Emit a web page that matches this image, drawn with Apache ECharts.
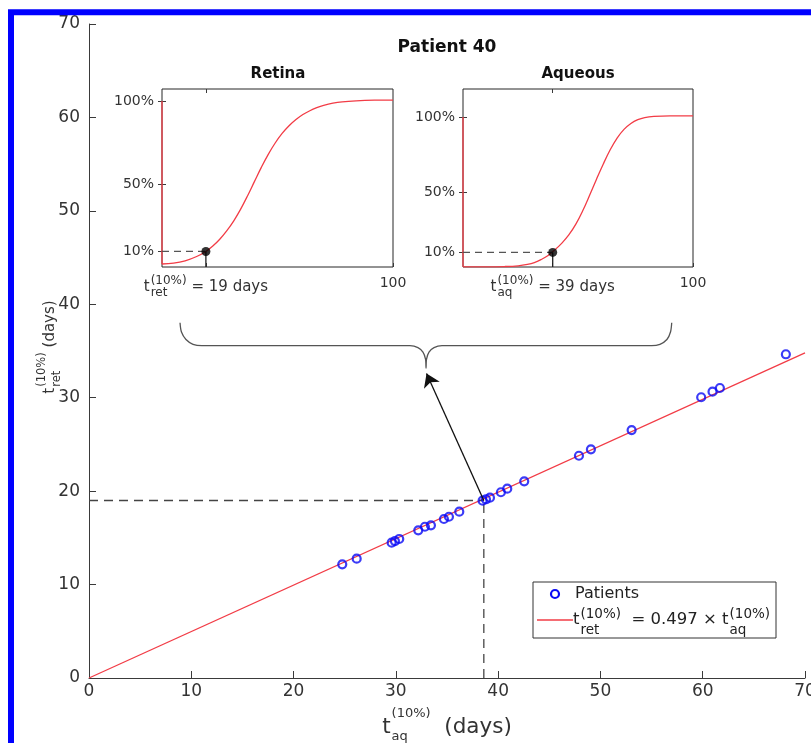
<!DOCTYPE html>
<html><head><meta charset="utf-8">
<script src="https://cdn.jsdelivr.net/npm/echarts@6/dist/echarts.min.js"></script>
<style>html,body{margin:0;padding:0;background:#fff;} #c{width:811px;height:743px;}</style>
</head><body><div id="c"></div>
<script>
const FONT = 'DejaVu Sans';
const AXIS_COLOR = '#3a3a3a';
const TEXT_COLOR = '#333333';

// ---- Main panel data: t_aq^(10%) (x) vs t_ret^(10%) (y), days ----
const patientsAq  = [24.76,26.17,29.59,29.91,30.33,32.19,32.84,33.43,34.70,35.19,36.20,38.48,38.81,39.20,40.27,40.89,42.55,47.90,49.07,53.05,59.85,60.96,61.68,68.13];
const patientsRet = [12.17,12.77,14.48,14.66,14.88,15.81,16.19,16.34,17.02,17.26,17.80,18.98,19.13,19.30,19.88,20.26,21.05,23.79,24.48,26.54,30.05,30.65,31.04,34.65];
const fitLine = [[0, 0], [70, 34.79]];
const patient40 = [38.6, 19];
const arrowTip = [33.0, 32.6];
const mainTicks = [0, 10, 20, 30, 40, 50, 60, 70];
// curly brace annotation (main data coordinates)
const brace = [[8.90,38.03],[9.04,37.03],[9.48,36.23],[10.17,35.72],[11.02,35.57],[31.38,35.57],[32.16,35.37],[32.65,34.89],[32.90,34.14],[32.95,33.15],[33.00,34.14],[33.24,34.89],[33.73,35.37],[34.51,35.57],[55.01,35.57],[55.82,35.72],[56.50,36.23],[56.85,37.03],[56.97,38.03]];

// ---- Inset curves (x: days 0-100, y: % of max) ----
const retinaCurve = [[0,2.5],[5,3.0],[10,4.4],[15,7.0],[19,10],[22,13.2],[25,17.3],[28,22.3],[31,28.2],[34,35.2],[37,43.2],[40,51.8],[43,60.3],[46,68.1],[49,74.9],[52,80.6],[55,85.2],[58,88.9],[61,91.9],[64,94.2],[67,96.0],[70,97.4],[74,98.7],[78,99.5],[84,100.1],[92,100.5],[100,100.6]];
const retinaJump = [[0,100],[0,2.5]];
const retinaT10 = 19;
const aqueousCurve = [[0,0.4],[10,0.4],[18,0.6],[24,1.1],[28,2.0],[31,3.2],[34,5.3],[37,8.0],[40,11.8],[43,16.2],[46,21.6],[49,28.6],[52,37.5],[55,47.8],[58,58.5],[61,68.8],[64,78.2],[67,86.0],[70,91.8],[73,95.7],[76,98.2],[79,99.6],[83,100.4],[90,100.8],[100,100.8]];
const aqueousJump = [[0,100],[0,0.4]];
const aqueousT10 = 39;
const insetYTicks = [10, 50, 100];
const retinaYRange = [0.7, 107.2];
const aqueousYRange = [0.3, 118.6];

const chart = echarts.init(document.getElementById('c'), null, {renderer: 'canvas'});

function insetXAxis(grid, pos, tick, showLabel) {
  return {
    type: 'value', gridIndex: grid, position: pos, min: 0, max: 100,
    axisLine: {show: false},
    splitLine: {show: false},
    axisTick: {show: true, inside: true, length: 4, customValues: pos === 'bottom' ? [tick, 100] : [tick], lineStyle: {color: AXIS_COLOR}},
    axisLabel: {show: showLabel, customValues: [100], formatter: v => (v === 100 ? '100' : ''), fontFamily: FONT, fontSize: 14, color: TEXT_COLOR, margin: 9}
  };
}
function insetYAxis(grid, pos, range, showLabel) {
  return {
    type: 'value', gridIndex: grid, position: pos, min: range[0], max: range[1],
    axisLine: {show: false},
    splitLine: {show: false},
    axisTick: {show: true, inside: true, length: 4, customValues: insetYTicks, lineStyle: {color: AXIS_COLOR}},
    axisLabel: {show: showLabel, customValues: insetYTicks, formatter: v => Math.round(v) + '%', fontFamily: FONT, fontSize: 14, color: TEXT_COLOR, margin: 8}
  };
}

const insetGrid = {show: true, backgroundColor: '#ffffff', borderColor: '#262626', borderWidth: 1, outerBoundsMode: 'none', containLabel: false};
const redLine = {color: '#f23c46', width: 1.3};

const option = {
  animation: false,
  backgroundColor: '#ffffff',
  title: [
    {text: 'Patient 40', left: 447, top: 39, textAlign: 'center', padding: 0, textStyle: {fontFamily: FONT, fontSize: 17, fontWeight: 'bold', color: '#111', lineHeight: 17}},
    {text: 'Retina', left: 278, top: 67, textAlign: 'center', padding: 0, textStyle: {fontFamily: FONT, fontSize: 15, fontWeight: 'bold', color: '#111', lineHeight: 15}},
    {text: 'Aqueous', left: 578, top: 67, textAlign: 'center', padding: 0, textStyle: {fontFamily: FONT, fontSize: 15, fontWeight: 'bold', color: '#111', lineHeight: 15}}
  ],
  grid: [
    {left: 89, top: 24, width: 716, height: 654, containLabel: false, outerBoundsMode: 'none'},
    Object.assign({left: 162, top: 89, width: 231, height: 178}, insetGrid),
    Object.assign({left: 463, top: 89, width: 230, height: 178}, insetGrid)
  ],
  xAxis: [
    {type: 'value', gridIndex: 0, min: mainTicks[0], max: mainTicks[mainTicks.length - 1], interval: 10,
     axisLine: {show: true, lineStyle: {color: AXIS_COLOR, width: 1}},
     axisTick: {show: true, inside: true, length: 7, lineStyle: {color: AXIS_COLOR}},
     axisLabel: {fontFamily: FONT, fontSize: 17, color: TEXT_COLOR, margin: 5},
     splitLine: {show: false}},
    insetXAxis(1, 'bottom', retinaT10, true),
    insetXAxis(1, 'top', retinaT10, false),
    insetXAxis(2, 'bottom', aqueousT10, true),
    insetXAxis(2, 'top', aqueousT10, false)
  ],
  yAxis: [
    {type: 'value', gridIndex: 0, min: mainTicks[0], max: mainTicks[mainTicks.length - 1], interval: 10,
     axisLine: {show: true, lineStyle: {color: AXIS_COLOR, width: 1}},
     axisTick: {show: true, inside: true, length: 7, lineStyle: {color: AXIS_COLOR}},
     axisLabel: {fontFamily: FONT, fontSize: 17, color: TEXT_COLOR, margin: 9},
     splitLine: {show: false}},
    insetYAxis(1, 'left', retinaYRange, true),
    insetYAxis(1, 'right', retinaYRange, false),
    insetYAxis(2, 'left', aqueousYRange, true),
    insetYAxis(2, 'right', aqueousYRange, false)
  ],
  series: [
    {name: 'fit', type: 'line', xAxisIndex: 0, yAxisIndex: 0, data: fitLine, symbol: 'none', lineStyle: {color: '#f23c46', width: 1.3}, z: 2},
    {name: 'Patients', type: 'scatter', xAxisIndex: 0, yAxisIndex: 0,
     data: patientsAq.map((v, i) => [v, patientsRet[i]]),
     symbol: 'circle', symbolSize: 8,
     itemStyle: {color: 'rgba(0,0,0,0)', borderColor: '#0a0af5', borderWidth: 2.2}, z: 3},
    {type: 'line', xAxisIndex: 0, yAxisIndex: 0, data: [[0, patient40[1]], patient40], symbol: 'none',
     lineStyle: {color: '#444', width: 1.3, type: [9, 6]}, z: 2},
    {type: 'line', xAxisIndex: 0, yAxisIndex: 0, data: [[patient40[0], 0], patient40], symbol: 'none',
     lineStyle: {color: '#444', width: 1.3, type: [9, 6]}, z: 2},
    {type: 'line', xAxisIndex: 0, yAxisIndex: 0, data: brace, symbol: 'none', smooth: 0.3,
     lineStyle: {color: '#555', width: 1.3}, z: 2},
    {type: 'line', xAxisIndex: 0, yAxisIndex: 0, data: [], symbol: 'none',
     markLine: {silent: true, symbol: ['none', 'arrow'], symbolSize: 13, label: {show: false},
       lineStyle: {color: '#111', width: 1.3, type: 'solid'},
       data: [[{coord: patient40}, {coord: arrowTip}]]}, z: 4},
    // Retina inset
    {type: 'line', xAxisIndex: 1, yAxisIndex: 1, data: retinaJump, symbol: 'none', lineStyle: redLine, clip: false, z: 5},
    {type: 'line', xAxisIndex: 1, yAxisIndex: 1, data: retinaCurve, symbol: 'none', smooth: 0.4, lineStyle: redLine, z: 5},
    {type: 'line', xAxisIndex: 1, yAxisIndex: 1, data: [[0, 10], [retinaT10, 10]], symbol: 'none', lineStyle: {color: '#555', width: 1.3, type: [7, 5]}, z: 5},
    {type: 'line', xAxisIndex: 1, yAxisIndex: 1, data: [[retinaT10, 10], [retinaT10, retinaYRange[0]]], symbol: 'none', lineStyle: {color: '#222', width: 1.3}, z: 5},
    {type: 'scatter', xAxisIndex: 1, yAxisIndex: 1, data: [[retinaT10, 10]], symbol: 'circle', symbolSize: 9, itemStyle: {color: '#000'}, z: 6},
    // Aqueous inset
    {type: 'line', xAxisIndex: 3, yAxisIndex: 3, data: aqueousJump, symbol: 'none', lineStyle: redLine, clip: false, z: 5},
    {type: 'line', xAxisIndex: 3, yAxisIndex: 3, data: aqueousCurve, symbol: 'none', smooth: 0.4, lineStyle: redLine, z: 5},
    {type: 'line', xAxisIndex: 3, yAxisIndex: 3, data: [[0, 10], [aqueousT10, 10]], symbol: 'none', lineStyle: {color: '#555', width: 1.3, type: [7, 5]}, z: 5},
    {type: 'line', xAxisIndex: 3, yAxisIndex: 3, data: [[aqueousT10, 10], [aqueousT10, aqueousYRange[0]]], symbol: 'none', lineStyle: {color: '#222', width: 1.3}, z: 5},
    {type: 'scatter', xAxisIndex: 3, yAxisIndex: 3, data: [[aqueousT10, 10]], symbol: 'circle', symbolSize: 9, itemStyle: {color: '#000'}, z: 6}
  ]
};
chart.setOption(option);

// ---- text with stacked super/subscripts (MATLAB TeX style) ----
const ctx = document.createElement('canvas').getContext('2d');
function textW(s, fs) { ctx.font = fs + 'px "' + FONT + '"'; return ctx.measureText(s).width; }
function txt(x, y, s, fs, color, z) {
  return {type: 'text', x: x, y: y, silent: true, z: z || 10,
    style: {text: s, fontSize: fs, fontFamily: FONT, fill: color,
      textAlign: 'left', textVerticalAlign: 'middle', align: 'left', verticalAlign: 'middle'}};
}
function stacked(segs, fs, sfs, supDy, subDy, color, z) {
  let x = 0; const kids = [];
  segs.forEach(s => {
    if (s.t) { kids.push(txt(x, 0, s.t, fs, color, z)); x += textW(s.t, fs); }
    let w = 0;
    if (s.sup) { kids.push(txt(x + 1, supDy, s.sup, sfs, color, z)); w = Math.max(w, textW(s.sup, sfs) + 1); }
    if (s.sub) { kids.push(txt(x + 1, subDy, s.sub, sfs, color, z)); w = Math.max(w, textW(s.sub, sfs) + 1); }
    x += w;
  });
  return {kids: kids, width: x};
}

const pRet = chart.convertToPixel({xAxisIndex: 1, yAxisIndex: 1}, [retinaT10, retinaYRange[0]]);
const pAq = chart.convertToPixel({xAxisIndex: 3, yAxisIndex: 3}, [aqueousT10, aqueousYRange[0]]);
const pMid = chart.convertToPixel({xAxisIndex: 0, yAxisIndex: 0}, [35, 35]);

const lblRet = stacked([{t: 't', sup: '(10%)', sub: 'ret'}, {t: ' = 19 days'}], 15, 12, -6.5, 5.5, TEXT_COLOR);
const lblAq = stacked([{t: 't', sup: '(10%)', sub: 'aq'}, {t: ' = 39 days'}], 15, 12, -6.5, 5.5, TEXT_COLOR);
const lblX = stacked([{t: 't', sup: '(10%)', sub: 'aq'}, {t: '  (days)'}], 21.5, 13, -13, 9.5, TEXT_COLOR);
const lblY = stacked([{t: 't', sup: '(10%)', sub: 'ret'}, {t: ' (days)'}], 15, 11.5, -8, 7, TEXT_COLOR);
const lblLeg = stacked([{t: 't', sup: '(10%)', sub: 'ret'}, {t: '  = 0.497 \u00d7 t', sup: '(10%)', sub: 'aq'}], 16.5, 13.5, -6, 10, '#222', 60);

chart.setOption({
  graphic: [
    {type: 'rect', silent: true, z: 100, shape: {x: 11, y: 12.2, width: 1000, height: 1000}, style: {fill: 'none', stroke: '#0000ff', lineWidth: 6}},
    {type: 'group', x: pRet[0] - lblRet.width / 2, y: pRet[1] + 20.5, children: lblRet.kids},
    {type: 'group', x: pAq[0] - lblAq.width / 2, y: pAq[1] + 20.5, children: lblAq.kids},
    {type: 'group', x: pMid[0] - lblX.width / 2, y: 727, children: lblX.kids},
    {type: 'group', x: 50, y: 347 + lblY.width / 2, rotation: Math.PI / 2, children: lblY.kids},
    // legend
    {type: 'rect', z: 50, shape: {x: 533, y: 582, width: 243, height: 56}, style: {fill: '#fff', stroke: '#333', lineWidth: 1}},
    {type: 'circle', z: 51, shape: {cx: 555, cy: 594, r: 4}, style: {fill: 'none', stroke: '#0a0af5', lineWidth: 2.2}},
    {type: 'text', z: 51, x: 575, y: 594, style: {text: 'Patients', fontSize: 16, fontFamily: FONT, fill: '#222', textAlign: 'left', textVerticalAlign: 'middle', align: 'left', verticalAlign: 'middle'}},
    {type: 'line', z: 51, shape: {x1: 537, y1: 620, x2: 573, y2: 620}, style: {stroke: '#f23c46', lineWidth: 1.3}},
    {type: 'group', z: 51, x: 573, y: 620, children: lblLeg.kids}
  ]
});
</script>
</body></html>
